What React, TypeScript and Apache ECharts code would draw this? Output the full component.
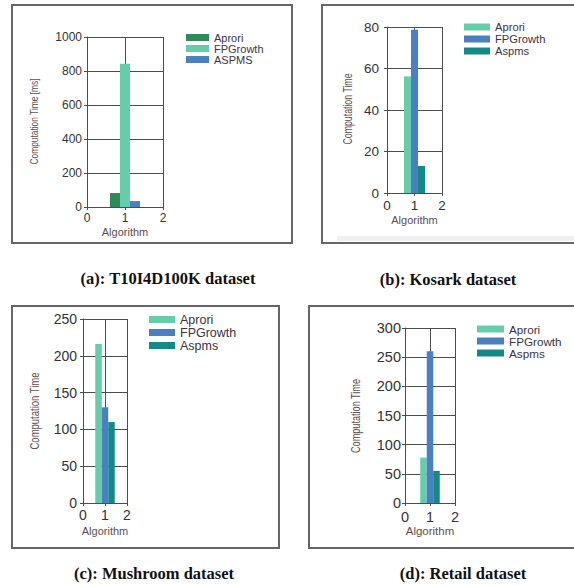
import { useEffect, useRef } from 'react';
import * as echarts from 'echarts';

// ---- data ----
const xTicks = [0, 1, 2];
const namesA = ['Aprori', 'FPGrowth', 'ASPMS'];
const namesBCD = ['Aprori', 'FPGrowth', 'Aspms'];
const t10Values = [82, 843, 35];
const kosarkValues = [56.2, 78.7, 13];
const mushroomValues = [216, 130, 110];
const retailValues = [78, 260, 55];
const yMaxes = [1000, 80, 250, 300];
const yIntervals = [200, 20, 50, 50];
const captions = ['(a): T10I4D100K dataset', '(b): Kosark dataset', '(c): Mushroom dataset', '(d): Retail dataset'];
const yTitles = ['Computation Time [ms]', 'Computation Time', 'Computation Time', 'Computation Time'];
const xTitle = 'Algorithm';
const barX = 1;

// ---- styles / layout ----
const colorsA = ['#2e8b57', '#66cdaa', '#4a80c0'];
const colorsBCD = ['#66cdaa', '#4a80c0', '#138a88'];
const SANS = '"Liberation Sans", Arial, Helvetica, sans-serif';
const SERIF = '"Liberation Serif", "Times New Roman", serif';
const lineCol = '#4d4d4d';
const nameCol = '#5e4e4c';

const panels = [
  {
    names: namesA, values: t10Values, colors: colorsA,
    grid: { left: 87, top: 37, width: 76, height: 170 }, barW: 10, labelFont: 12, yMargin: 5, xMargin: 5,
    legend: { left: 186, top: 32, w: 23, h: 7, font: 11, lh: 11 },
    yName: { x: 34, y: 121.5, font: 11.5 }, nameGap: 19.5, xNameFont: 11,
    caption: { x: 168, y: 278 }, frame: { x: 12, y: 5, w: 280, h: 238 },
  },
  {
    names: namesBCD, values: kosarkValues, colors: colorsBCD,
    grid: { left: 387, top: 27, width: 55, height: 166 }, barW: 7, labelFont: 13.5, yMargin: 8, xMargin: 5,
    legend: { left: 464, top: 21, w: 26, h: 7, font: 11.2, lh: 12 },
    yName: { x: 347, y: 109, font: 12 }, nameGap: 21.5, xNameFont: 11,
    caption: { x: 448, y: 279 }, frame: { x: 322, y: 5, w: 262, h: 238 },
  },
  {
    names: namesBCD, values: mushroomValues, colors: colorsBCD,
    grid: { left: 83, top: 319, width: 44, height: 184 }, barW: 6.5, labelFont: 14, yMargin: 6, xMargin: 5,
    legend: { left: 149, top: 313, w: 26, h: 7, font: 12.5, lh: 12.5 },
    yName: { x: 34.3, y: 411, font: 13 }, nameGap: 22, xNameFont: 11,
    caption: { x: 154, y: 573.5 }, frame: { x: 12, y: 306, w: 267, h: 242 },
  },
  {
    names: namesBCD, values: retailValues, colors: colorsBCD,
    grid: { left: 405, top: 328, width: 50, height: 175 }, barW: 6.5, labelFont: 14.5, yMargin: 4, xMargin: 6,
    legend: { left: 477, top: 323, w: 27, h: 7, font: 11.7, lh: 11.7 },
    yName: { x: 355, y: 416, font: 12.5 }, nameGap: 20.5, xNameFont: 11.5,
    caption: { x: 463, y: 573.5 }, frame: { x: 309, y: 306, w: 275, h: 242 },
  },
];

export default function App() {
  const ref = useRef<HTMLDivElement>(null);
  useEffect(() => {
    if (!ref.current) return;
    const chart = echarts.init(ref.current, undefined, { renderer: 'svg' });

    const graphic: any[] = [];
    panels.forEach((p, i) => {
      graphic.push({
        type: 'rect', silent: true,
        shape: { x: p.frame.x, y: p.frame.y, width: p.frame.w, height: p.frame.h },
        style: { fill: 'none', stroke: '#666', lineWidth: 2 },
      });
      graphic.push({
        type: 'text', x: p.yName.x, y: p.yName.y, rotation: Math.PI / 2, scaleX: 0.73, silent: true,
        style: { text: yTitles[i], fontSize: p.yName.font, fontFamily: SANS, fill: nameCol, align: 'center', verticalAlign: 'middle' },
      });
      graphic.push({
        type: 'text', x: p.caption.x, y: p.caption.y, silent: true,
        style: { text: captions[i], fontSize: 16.5, fontWeight: 'bold', fontFamily: SERIF, fill: '#111', align: 'center', verticalAlign: 'middle' },
      });
    });
    graphic.push({
      type: 'rect', silent: true, z: -1,
      shape: { x: 337, y: 236, width: 240, height: 5 },
      style: { fill: '#f0f0f2' },
    });

    const option: any = {
      animation: false,
      backgroundColor: '#fff',
      grid: panels.map((p) => ({ ...p.grid, containLabel: false })),
      xAxis: panels.map((p, i) => ({
        gridIndex: i, type: 'value', min: xTicks[0], max: xTicks[xTicks.length - 1], interval: 1,
        axisLine: { show: true, onZero: false, lineStyle: { color: lineCol, width: 1 } },
        axisTick: { show: true, length: 3, lineStyle: { color: lineCol } },
        splitLine: { show: true, lineStyle: { color: lineCol, width: 1 } },
        axisLabel: { fontSize: p.labelFont, color: '#333', fontFamily: SANS, margin: p.xMargin, formatter: (v: number) => String(v) },
        name: xTitle, nameLocation: 'middle', nameGap: p.nameGap,
        nameTextStyle: { fontSize: p.xNameFont, color: nameCol, fontFamily: SANS, verticalAlign: 'top' },
      })),
      yAxis: panels.map((p, i) => ({
        gridIndex: i, type: 'value', min: 0, max: yMaxes[i], interval: yIntervals[i],
        axisLine: { show: true, lineStyle: { color: lineCol, width: 1 } },
        axisTick: { show: true, length: 3, lineStyle: { color: lineCol } },
        splitLine: { show: true, lineStyle: { color: lineCol, width: 1 } },
        axisLabel: { fontSize: p.labelFont, color: '#333', fontFamily: SANS, margin: p.yMargin, formatter: (v: number) => String(v) },
      })),
      legend: panels.map((p) => ({
        orient: 'vertical', left: p.legend.left, top: p.legend.top, padding: 0,
        itemWidth: p.legend.w, itemHeight: p.legend.h, itemGap: 0, icon: 'rect', selectedMode: false,
        textStyle: { fontSize: p.legend.font, lineHeight: p.legend.lh, color: '#3b3344', fontFamily: SANS, padding: [0, 0, 0, 0] },
        data: p.names.map((n, j) => ({ name: n, itemStyle: { color: p.colors[j] } })),
      })),
      series: panels.flatMap((p, i) =>
        p.names.map((n, j) => ({
          type: 'bar', name: n, xAxisIndex: i, yAxisIndex: i,
          data: [[barX, p.values[j]]], barWidth: p.barW, barGap: '0%',
          itemStyle: { color: p.colors[j] },
        }))
      ),
      graphic,
    };
    chart.setOption(option);
    return () => chart.dispose();
  }, []);
  return (
    <div
      ref={ref}
      style={{ position: 'absolute', left: 0, top: 0, width: 574, height: 586, background: '#fff' }}
    />
  );
}
